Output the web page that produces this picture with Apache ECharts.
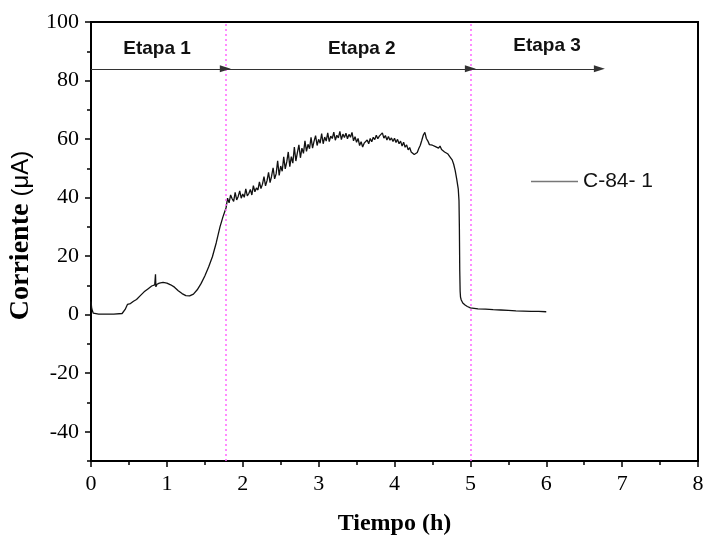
<!DOCTYPE html>
<html>
<head>
<meta charset="utf-8">
<script src="https://cdn.jsdelivr.net/npm/echarts@6/dist/echarts.min.js"></script>
<style>
  html, body { margin: 0; padding: 0; background: #fff; }
  #chart { width: 704px; height: 537px; }
</style>
</head>
<body>
<div id="chart"></div>
<script>
// curva C-84- 1: [tiempo (h), corriente (uA)]
const etapa1 = [
  [0.0, 4.5], [0.01, 2], [0.03, 0.5], [0.1, 0.2], [0.3, 0.2], [0.41, 0.4],
  [0.45, 1.8], [0.48, 3.5], [0.52, 3.8], [0.56, 4.6], [0.6, 5.2], [0.65, 6.5],
  [0.7, 7.8], [0.75, 8.8], [0.8, 9.8], [0.84, 10.2], [0.85, 13.8], [0.855, 9.5],
  [0.87, 10.4], [0.9, 10.8], [0.95, 11.0], [1.0, 10.8], [1.05, 10.2], [1.1, 9.4],
  [1.15, 8.2], [1.2, 7.2], [1.25, 6.5], [1.3, 6.4], [1.35, 7.0], [1.4, 8.5],
  [1.45, 10.6], [1.5, 13.2], [1.55, 16.3], [1.6, 19.8], [1.65, 24.5], [1.7, 30],
  [1.74, 33.5], [1.76, 35]
];
const etapa2 = [
  [1.78, 36.5], [1.80, 39.8], [1.82, 38.2], [1.84, 40.9], [1.86, 39.6], [1.88, 38.7],
  [1.90, 41.8], [1.92, 39.2], [1.94, 40.4], [1.96, 42.3], [1.98, 39.8], [2.00, 41.2],
  [2.02, 40.1], [2.04, 43.0], [2.06, 40.6], [2.08, 41.4], [2.10, 42.8], [2.12, 40.9],
  [2.14, 44.1], [2.16, 42.0], [2.18, 43.3], [2.20, 42.6], [2.22, 45.4], [2.24, 43.1],
  [2.26, 44.6], [2.28, 47.2], [2.30, 44.0], [2.32, 45.8], [2.34, 48.6], [2.36, 45.1],
  [2.38, 47.3], [2.40, 50.2], [2.42, 46.4], [2.44, 48.1], [2.46, 52.6], [2.48, 47.6],
  [2.50, 50.8], [2.52, 49.0], [2.54, 53.9], [2.56, 49.8], [2.58, 52.2], [2.60, 55.6],
  [2.62, 50.6], [2.64, 54.0], [2.66, 51.8], [2.68, 57.3], [2.70, 52.5], [2.72, 55.4],
  [2.74, 58.0], [2.76, 53.6], [2.78, 56.9], [2.80, 55.1], [2.82, 59.4], [2.84, 55.8],
  [2.86, 58.2], [2.88, 56.7], [2.90, 60.6], [2.92, 56.9], [2.94, 59.3], [2.96, 61.2],
  [2.98, 57.8], [3.00, 59.9], [3.02, 58.6], [3.04, 61.9], [3.06, 58.4], [3.08, 60.7],
  [3.10, 59.3], [3.12, 62.1], [3.14, 59.1], [3.16, 61.0], [3.18, 60.2], [3.20, 62.4],
  [3.22, 59.6], [3.24, 61.3], [3.26, 60.4], [3.28, 62.6], [3.30, 59.8], [3.32, 61.7],
  [3.34, 60.5], [3.36, 62.0], [3.38, 60.1], [3.40, 61.6], [3.42, 60.6], [3.44, 62.3],
  [3.46, 59.4], [3.48, 60.8], [3.50, 58.9], [3.52, 60.2], [3.54, 57.8], [3.56, 59.1],
  [3.58, 57.3], [3.60, 58.6], [3.62, 58.0], [3.64, 59.7], [3.66, 58.4], [3.68, 60.2],
  [3.70, 59.1], [3.72, 60.6], [3.74, 59.8], [3.76, 61.3], [3.78, 60.1], [3.80, 61.0],
  [3.82, 60.4], [3.84, 62.1], [3.86, 60.3], [3.88, 61.2], [3.90, 59.7], [3.92, 60.9],
  [3.94, 59.6], [3.96, 60.4], [3.98, 59.2], [4.00, 60.3], [4.02, 58.8], [4.04, 59.9],
  [4.06, 58.4], [4.08, 59.3], [4.10, 57.6], [4.12, 58.9], [4.14, 57.2], [4.16, 58.0],
  [4.18, 56.3], [4.20, 57.1], [4.22, 55.6], [4.24, 56.0], [4.26, 54.7], [4.28, 54.3],
  [4.30, 55.4], [4.32, 56.8], [4.34, 57.9], [4.36, 59.6], [4.38, 61.4], [4.40, 62.3],
  [4.42, 60.2], [4.44, 59.3], [4.46, 58.1], [4.48, 58.6], [4.50, 57.9], [4.52, 58.3],
  [4.54, 57.4], [4.56, 57.9], [4.58, 56.9], [4.60, 57.6], [4.62, 56.4], [4.64, 56.8],
  [4.66, 55.6], [4.68, 56.1], [4.70, 55.0], [4.72, 54.7], [4.74, 53.6], [4.76, 52.9],
  [4.78, 51.4], [4.80, 49.2], [4.82, 46.3], [4.84, 43.0], [4.85, 39], [4.855, 30],
  [4.86, 15], [4.865, 8], [4.87, 6], [4.88, 5], [4.90, 4], [4.93, 3.3], [4.96, 2.8]
];
const etapa3 = [
  [5.0, 2.3], [5.1, 2.0], [5.2, 1.9], [5.3, 1.7], [5.4, 1.6], [5.5, 1.5],
  [5.6, 1.3], [5.7, 1.2], [5.8, 1.1], [5.9, 1.1], [6.0, 1.0]
];

// limites de etapas y flechas
const limites = [1.77, 5.0];
const flechaY = 84;
const flechas = [[0, 1.77], [1.77, 5.0], [5.0, 6.7]];
const etiquetas = ["Etapa 1", "Etapa 2", "Etapa 3"];
const etiquetaPos = [[0.87, 91], [3.57, 91], [6.01, 92]];

const yLabels = [-40, -20, 0, 20, 40, 60, 80, 100];

const serif = "Liberation Serif";
const sans = "Liberation Sans";

const chart = echarts.init(document.getElementById("chart"));
chart.setOption({
  animation: false,
  backgroundColor: "#fff",
  grid: {
    left: 91, right: 6, top: 22, bottom: 76,
    outerBoundsMode: "none",
    show: true, borderColor: "#000", borderWidth: 2
  },
  legend: {
    left: 526, top: 166,
    data: ["C-84- 1"],
    icon: "rect",
    itemWidth: 47, itemHeight: 1.5, itemGap: 6,
    itemStyle: { color: "#777" },
    textStyle: { fontFamily: sans, fontSize: 21, color: "#111", padding: [0, 0, 0, 0] }
  },
  xAxis: {
    type: "value", min: 0, max: 8, interval: 1,
    name: "Tiempo (h)", nameLocation: "middle", nameGap: 51,
    nameTextStyle: { fontFamily: serif, fontSize: 24, fontWeight: "bold", color: "#000" },
    axisLine: { show: true, onZero: false, lineStyle: { color: "#000", width: 2 } },
    axisTick: { show: true, inside: false, length: 6, lineStyle: { color: "#000", width: 1.5 } },
    minorTick: { show: true, splitNumber: 2, length: 4, lineStyle: { color: "#000", width: 1.5 } },
    axisLabel: { fontFamily: serif, fontSize: 22, color: "#000", margin: 12 },
    splitLine: { show: false }
  },
  yAxis: [
    {
      type: "value", min: -50, max: 100,
      name: "{a|Corriente }{b|(μA)}", nameLocation: "middle", nameGap: 55,
      nameTextStyle: {
        color: "#000", padding: [0, 0, 0, 12],
        rich: {
          a: { fontFamily: serif, fontSize: 28, fontWeight: "bold", color: "#000" },
          b: { fontFamily: sans, fontSize: 24, color: "#000" }
        }
      },
      axisLine: { show: true, onZero: false, lineStyle: { color: "#000", width: 2 } },
      axisTick: { show: true, inside: false, length: 6, customValues: yLabels,
        lineStyle: { color: "#000", width: 1.5 } },
      axisLabel: { fontFamily: serif, fontSize: 22, color: "#000", margin: 12, customValues: yLabels },
      splitLine: { show: false }
    },
    {
      type: "value", min: -50, max: 100, interval: 10, position: "left",
      axisLine: { show: false },
      axisTick: { show: true, inside: false, length: 4, lineStyle: { color: "#000", width: 1.5 } },
      axisLabel: { show: false },
      splitLine: { show: false }
    }
  ],
  series: [
    {
      name: "C-84- 1",
      type: "line",
      data: etapa1.concat(etapa2, etapa3),
      symbol: "none",
      lineStyle: { color: "#111", width: 1.3 },
      itemStyle: { color: "#111" },
      z: 3,
      markLine: {
        silent: true,
        symbol: ["none", "none"],
        label: { show: false },
        lineStyle: { color: "#ff66ff", type: [2, 3], width: 1.5 },
        data: limites.map(v => ({ xAxis: v }))
      }
    },
    {
      name: "flechas",
      type: "line",
      data: [],
      markLine: {
        silent: true,
        symbol: ["none", "triangle"],
        symbolSize: [7, 11],
        label: { show: false },
        lineStyle: { color: "#333", type: "solid", width: 1.2 },
        data: flechas.map(f => [{ coord: [f[0], flechaY] }, { coord: [f[1], flechaY] }])
      },
      markPoint: {
        silent: true,
        symbol: "circle",
        symbolSize: 0,
        label: {
          show: true, position: "inside",
          fontFamily: sans, fontSize: 19, fontWeight: "bold", color: "#111",
          formatter: p => p.name
        },
        data: etiquetas.map((t, i) => ({ name: t, coord: etiquetaPos[i] }))
      }
    }
  ]
});
</script>
</body>
</html>
